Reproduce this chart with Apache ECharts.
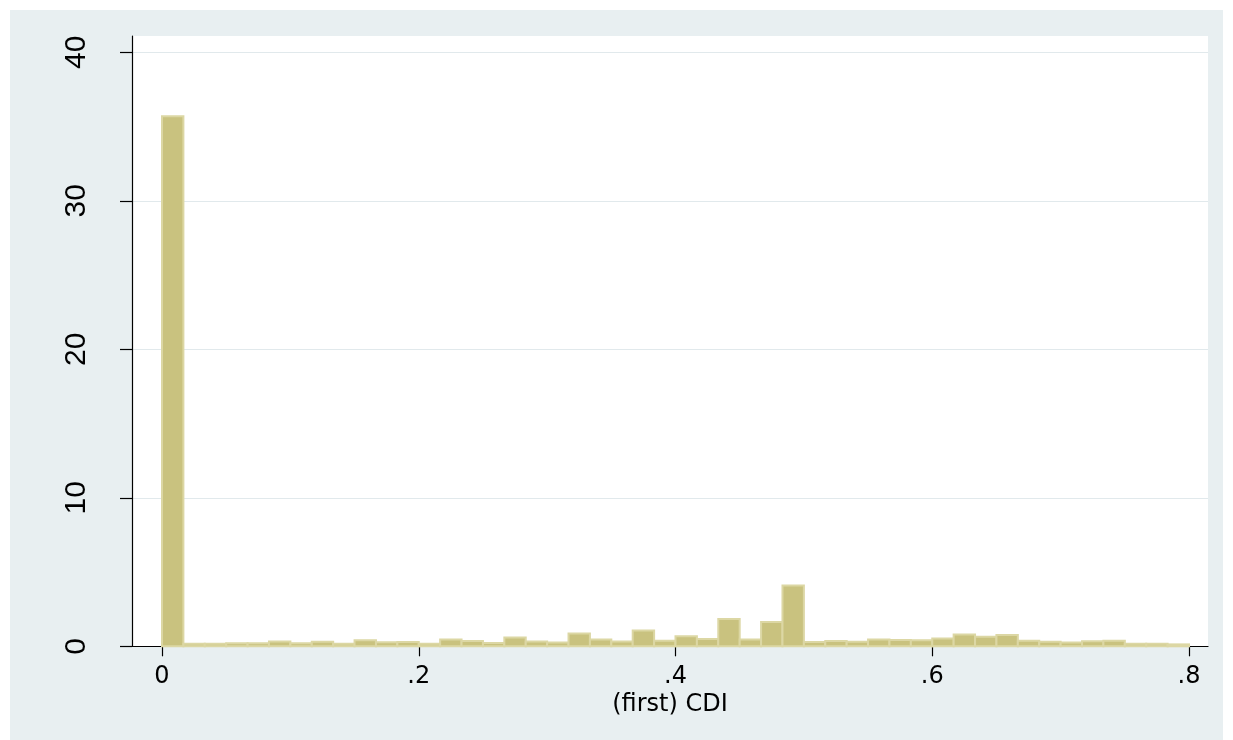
<!DOCTYPE html>
<html><head><meta charset="utf-8">
<script src="https://cdn.jsdelivr.net/npm/echarts@6/dist/echarts.min.js"></script>
<style>
html,body{margin:0;padding:0;background:#ffffff;}
#c{position:absolute;left:10px;top:10px;width:1213px;height:730px;}
</style>
</head><body><div id="c"></div>
<script>
// Histogram of (first) CDI — density per bin
const binStart = 0;
const binCount = 48;
const binWidth = 0.8 / binCount;
const density = [35.7, 0.18, 0.18, 0.2, 0.2, 0.33, 0.2, 0.3, 0.18, 0.4,
  0.27, 0.29, 0.18, 0.45, 0.36, 0.22, 0.6, 0.33, 0.25, 0.87,
  0.45, 0.33, 1.06, 0.38, 0.67, 0.49, 1.84, 0.45, 1.64, 4.09,
  0.29, 0.36, 0.31, 0.45, 0.43, 0.4, 0.52, 0.8, 0.65, 0.76,
  0.38, 0.3, 0.25, 0.34, 0.38, 0.18, 0.18, 0.13];
const xTicks = [0, 0.2, 0.4, 0.6, 0.8];
const xTickLabels = ['0', '.2', '.4', '.6', '.8'];
const yTicks = [0, 10, 20, 30, 40];
const yTickLabels = ['0', '10', '20', '30', '40'];
const xTitle = '(first) CDI';

const bins = density.map((d, i) => [binStart + i * binWidth, binStart + (i + 1) * binWidth, d]);

function lab(ticks, labels, v) {
  const i = ticks.findIndex(t => Math.abs(t - v) < 1e-9);
  return i < 0 ? '' : labels[i];
}

const chart = echarts.init(document.getElementById('c'), null, {renderer: 'canvas'});
chart.setOption({
  backgroundColor: '#e8eff1',
  animation: false,
  grid: {
    left: 122, right: 15, top: 26, bottom: 93.7,
    show: true, backgroundColor: '#ffffff', borderWidth: 0
  },
  xAxis: {
    type: 'value',
    min: -0.02337, max: 0.8148,
    name: xTitle,
    nameLocation: 'middle',
    nameGap: 42,
    nameTextStyle: {fontFamily: 'DejaVu Sans', fontSize: 24, color: '#000'},
    axisLine: {onZero: false, lineStyle: {color: '#000', width: 1.2}},
    axisTick: {show: true, length: 10, customValues: xTicks, lineStyle: {color: '#000', width: 1.2}},
    axisLabel: {customValues: xTicks, formatter: v => lab(xTicks, xTickLabels, v),
      fontFamily: 'DejaVu Sans', fontSize: 24, color: '#000', margin: 18},
    splitLine: {show: false}
  },
  yAxis: {
    type: 'value',
    min: 0, max: 41.1, interval: 10,
    axisLine: {show: true, onZero: false, lineStyle: {color: '#000', width: 1.2}},
    axisTick: {show: true, length: 12, customValues: yTicks, lineStyle: {color: '#000', width: 1.2}},
    axisLabel: {customValues: yTicks, formatter: v => lab(yTicks, yTickLabels, v),
      rotate: 90, fontFamily: 'Liberation Sans', fontSize: 30, color: '#000', margin: 40},
    splitLine: {show: true, lineStyle: {color: '#e1e9ec', width: 1.2}}
  },
  series: [{
    type: 'custom',
    data: bins,
    encode: {x: [0, 1], y: 2},
    renderItem: function (params, api) {
      const p0 = api.coord([api.value(0), api.value(2)]);
      const p1 = api.coord([api.value(1), 0]);
      return {
        type: 'rect',
        shape: {x: p0[0], y: p0[1], width: p1[0] - p0[0], height: p1[1] - p0[1]},
        style: {fill: '#c9c27f', stroke: '#dcd7a4', lineWidth: 2}
      };
    }
  }]
});
</script>
</body></html>
